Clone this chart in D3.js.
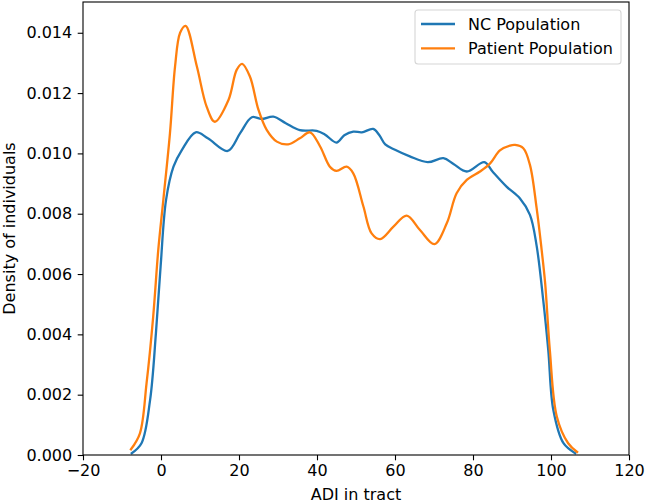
<!DOCTYPE html>
<html>
<head>
<meta charset="utf-8">
<script src="https://cdn.jsdelivr.net/npm/d3@7"></script>
<style>
  body { margin: 0; background: #fff; }
  text { font-family: "DejaVu Sans", sans-serif; fill: #000; }
</style>
</head>
<body>
<div id="chart"></div>
<script>
// KDE curves: [ADI, density]
const ncPopulation = [
  [-7.5, 0.00006], [-5, 0.00039], [-2.8, 0.00182], [-1.3, 0.00404], [-0.1, 0.00625],
  [1.3, 0.00846], [3.2, 0.00956], [5.3, 0.0101], [8.9, 0.0107], [12, 0.0105],
  [17.1, 0.01008], [20.3, 0.01067], [23.3, 0.0112], [25.8, 0.01114], [28.8, 0.01122],
  [32, 0.011], [35.6, 0.01077], [39.9, 0.01075], [42, 0.01063], [45, 0.01036],
  [47, 0.0106], [49.3, 0.01072], [51.5, 0.0107], [54.4, 0.01081], [56, 0.0106],
  [57.5, 0.0103], [60, 0.01012], [63.8, 0.0099], [68.4, 0.00971], [72.4, 0.00984],
  [75, 0.00965], [78.4, 0.0094], [82.9, 0.00971], [85, 0.0094], [88.6, 0.0089],
  [92, 0.00851], [94.6, 0.00796], [96.3, 0.00695], [98, 0.00514], [99.3, 0.00348],
  [100.6, 0.00149], [103.2, 0.00039], [106.2, 0.00006]
];
const patientPopulation = [
  [-7.7, 0.00019], [-5.4, 0.00072], [-3.7, 0.00238], [-2.0, 0.00459], [-0.7, 0.0068],
  [0.6, 0.00846], [2.3, 0.01067], [3.6, 0.01288], [4.9, 0.014], [6.3, 0.01423],
  [9.2, 0.01288], [11.7, 0.01155], [13.8, 0.01105], [17.3, 0.01177], [19.4, 0.01277],
  [20.8, 0.01297], [22.8, 0.01255], [25, 0.01144], [27.1, 0.01078], [29.7, 0.01039],
  [32.6, 0.0103], [35.6, 0.0105], [38.2, 0.0107], [40.8, 0.01023], [43.3, 0.00956],
  [45, 0.00942], [47.6, 0.00956], [49.3, 0.00934], [51.9, 0.00824], [54, 0.00735],
  [56.2, 0.00716], [59.6, 0.00757], [63, 0.00794], [66.4, 0.00746], [70.1, 0.00699],
  [73.3, 0.00769], [75.8, 0.00868], [78.4, 0.00912], [81.8, 0.0094], [84.4, 0.00967],
  [86.9, 0.0101], [89.5, 0.01026], [90.8, 0.01028], [92.9, 0.01017], [94.6, 0.00962],
  [96.3, 0.0082], [97.6, 0.0068], [98.5, 0.0057], [99.7, 0.00348], [101.5, 0.00127],
  [104.4, 0.00039], [106.7, 0.0001]
];

const seriesNames = ["NC Population", "Patient Population"];
const seriesColors = ["#1f77b4", "#ff7f0e"];
const xTicks = [-20, 0, 20, 40, 60, 80, 100, 120];
const yTicks = [0, 0.002, 0.004, 0.006, 0.008, 0.010, 0.012, 0.014];

const width = 645, height = 504;
const margin = {top: 2, right: 16, bottom: 49, left: 83};
const fs = 16;

const svg = d3.select("#chart").append("svg")
  .attr("width", width)
  .attr("height", height);

const x = d3.scaleLinear().domain([-20, 120]).range([margin.left, width - margin.right]);
const y = d3.scaleLinear().domain([0, 0.01502]).range([height - margin.bottom, margin.top]);

svg.append("clipPath").attr("id", "clip")
  .append("rect")
  .attr("x", margin.left).attr("y", margin.top)
  .attr("width", width - margin.left - margin.right)
  .attr("height", height - margin.top - margin.bottom);

const line = d3.line()
  .x(d => x(d[0]))
  .y(d => y(d[1]))
  .curve(d3.curveCatmullRom.alpha(0.5));

const g = svg.append("g").attr("clip-path", "url(#clip)");
[ncPopulation, patientPopulation].forEach(function(s, i) {
  g.append("path")
    .datum(s)
    .attr("d", line)
    .attr("fill", "none")
    .attr("stroke", seriesColors[i])
    .attr("stroke-width", 2.3)
    .attr("stroke-linejoin", "round")
    .attr("stroke-linecap", "square");
});

// axes
const xAxis = svg.append("g")
  .attr("transform", `translate(0,${height - margin.bottom})`)
  .call(d3.axisBottom(x).tickValues(xTicks).tickSizeOuter(0).tickSize(5.3).tickPadding(4)
    .tickFormat(d => d < 0 ? "\u2212" + Math.abs(d) : d));
const yAxis = svg.append("g")
  .attr("transform", `translate(${margin.left},0)`)
  .call(d3.axisLeft(y).tickValues(yTicks).tickSizeOuter(0).tickSize(5.3).tickPadding(5.5)
    .tickFormat(d3.format(".3f")));

[xAxis, yAxis].forEach(a => {
  a.selectAll("text").style("font-size", fs + "px").style("font-family", "DejaVu Sans").attr("fill", "#000");
  a.selectAll("line").attr("stroke", "#000").attr("stroke-width", 1.1);
  a.select(".domain").remove();
});

// frame
svg.append("rect")
  .attr("x", margin.left).attr("y", margin.top)
  .attr("width", width - margin.left - margin.right)
  .attr("height", height - margin.top - margin.bottom)
  .attr("fill", "none")
  .attr("stroke", "#000")
  .attr("stroke-width", 1.1);

svg.append("text")
  .attr("x", (margin.left + width - margin.right) / 2)
  .attr("y", 500)
  .attr("text-anchor", "middle")
  .style("font-size", fs + "px")
  .text("ADI in tract");

svg.append("text")
  .attr("transform", `translate(14.5,${(margin.top + height - margin.bottom) / 2}) rotate(-90)`)
  .attr("text-anchor", "middle")
  .style("font-size", fs + "px")
  .text("Density of individuals");

// legend
const legend = svg.append("g");
legend.append("rect")
  .attr("x", 415).attr("y", 10)
  .attr("width", 206).attr("height", 54)
  .attr("rx", 3)
  .attr("fill", "#fff").attr("fill-opacity", 0.8)
  .attr("stroke", "#d6d6d6").attr("stroke-width", 1.1);

legend.selectAll("line.key")
  .data(seriesNames)
  .enter().append("line")
  .attr("class", "key")
  .attr("x1", 421).attr("x2", 455)
  .attr("y1", (d, i) => 24 + i * 24.3)
  .attr("y2", (d, i) => 24 + i * 24.3)
  .attr("stroke", (d, i) => seriesColors[i])
  .attr("stroke-width", 2.3);

legend.selectAll("text.key")
  .data(seriesNames)
  .enter().append("text")
  .attr("class", "key")
  .attr("x", 468)
  .attr("y", (d, i) => 24 + i * 24.3)
  .attr("dy", "0.36em")
  .style("font-size", fs + "px")
  .text(d => d);
</script>
</body>
</html>
